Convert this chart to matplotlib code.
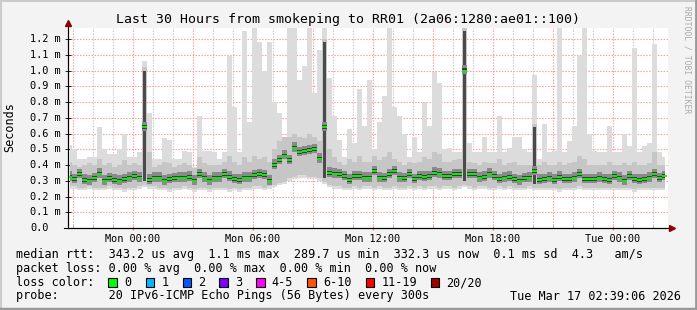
import numpy as np
import matplotlib
matplotlib.use("Agg")
import matplotlib.pyplot as plt
from matplotlib.patches import Rectangle
from matplotlib.lines import Line2D
from matplotlib.transforms import blended_transform_factory

plt.rcParams['font.family'] = 'DejaVu Sans Mono'

W, H = 697, 310

# one bin = 15 minutes, hours relative to Mon 00:00
t_start = -3.15
t_step = 0.25

# median rtt (ms)
median = [
    0.326, 0.31, 0.34, 0.305, 0.30, 0.315, 0.345, 0.30, 0.315, 0.305,
    0.30, 0.31, 0.32, 0.33, 0.32, 0.64, 0.305, 0.32, 0.32, 0.30,
    0.31, 0.315, 0.32, 0.32, 0.325, 0.30, 0.34, 0.32, 0.30, 0.32,
    0.32, 0.34, 0.325, 0.31, 0.305, 0.32, 0.32, 0.335, 0.34, 0.335,
    0.30, 0.40, 0.43, 0.46, 0.43, 0.51, 0.48, 0.487, 0.495, 0.50,
    0.44, 0.64, 0.35, 0.345, 0.34, 0.33, 0.305, 0.33, 0.33, 0.32,
    0.32, 0.36, 0.32, 0.315, 0.34, 0.36, 0.32, 0.315, 0.34, 0.31,
    0.33, 0.325, 0.33, 0.35, 0.345, 0.33, 0.33, 0.34, 0.34, 1.00,
    0.34, 0.34, 0.32, 0.325, 0.345, 0.33, 0.31, 0.32, 0.325, 0.31,
    0.30, 0.315, 0.32, 0.36, 0.305, 0.31, 0.32, 0.305, 0.325, 0.31,
    0.31, 0.32, 0.34, 0.31, 0.31, 0.31, 0.32, 0.31, 0.305, 0.33,
    0.32, 0.30, 0.33, 0.31, 0.305, 0.31, 0.32, 0.34, 0.315, 0.33,
]

# slowest ping per bin (ms)
top = [
    0.53, 0.50, 0.44, 0.44, 0.45, 0.45, 0.64, 0.50, 0.47, 0.47,
    0.50, 0.60, 0.45, 0.45, 0.48, 1.06, 0.73, 0.44, 0.44, 0.57,
    0.56, 0.44, 0.44, 0.49, 0.48, 0.39, 0.71, 0.49, 0.49, 0.48,
    0.44, 0.48, 1.09, 0.77, 0.48, 1.25, 0.67, 1.30, 1.18, 1.00,
    1.18, 0.80, 0.73, 0.54, 1.30, 1.30, 0.94, 1.03, 1.30, 0.86,
    1.13, 1.30, 0.95, 0.71, 0.56, 0.45, 0.63, 0.54, 0.88, 0.65,
    0.94, 0.50, 0.67, 0.84, 1.30, 0.77, 0.71, 0.60, 0.45, 0.58,
    0.48, 0.80, 0.65, 0.99, 0.92, 0.50, 0.51, 0.48, 0.48, 1.30,
    0.54, 0.48, 0.48, 0.58, 0.48, 0.48, 0.71, 0.48, 0.51, 0.58,
    0.58, 0.50, 0.48, 0.97, 0.44, 0.66, 0.48, 0.49, 1.30, 0.48,
    0.55, 0.65, 1.09, 1.30, 0.60, 0.49, 0.48, 0.48, 0.65, 0.48,
    0.48, 0.60, 0.52, 1.14, 0.48, 0.52, 0.54, 1.17, 0.48, 0.45,
]

# upper edge of the dense smoke (ms)
upper = [
    0.42, 0.40, 0.39, 0.40, 0.41, 0.40, 0.44, 0.40, 0.41, 0.39,
    0.40, 0.43, 0.40, 0.41, 0.40, 1.02, 0.48, 0.39, 0.40, 0.42,
    0.41, 0.39, 0.40, 0.41, 0.40, 0.38, 0.45, 0.41, 0.40, 0.40,
    0.40, 0.42, 0.46, 0.42, 0.40, 0.45, 0.42, 0.46, 0.44, 0.45,
    0.42, 0.50, 0.55, 0.58, 0.58, 0.60, 0.58, 0.57, 0.60, 0.58,
    0.55, 1.20, 0.50, 0.45, 0.42, 0.40, 0.44, 0.42, 0.46, 0.42,
    0.42, 0.46, 0.43, 0.45, 0.48, 0.44, 0.42, 0.40, 0.42, 0.41,
    0.42, 0.45, 0.44, 0.48, 0.47, 0.42, 0.42, 0.43, 0.44, 1.27,
    0.42, 0.41, 0.40, 0.42, 0.41, 0.41, 0.44, 0.40, 0.41, 0.42,
    0.40, 0.40, 0.40, 0.66, 0.40, 0.42, 0.40, 0.40, 0.42, 0.40,
    0.41, 0.42, 0.46, 0.44, 0.40, 0.40, 0.40, 0.40, 0.42, 0.40,
    0.40, 0.41, 0.40, 0.42, 0.40, 0.40, 0.41, 0.48, 0.40, 0.40,
]

# fastest ping per bin (ms)
lower = [
    0.25, 0.25, 0.24, 0.24, 0.25, 0.24, 0.24, 0.24, 0.25, 0.24,
    0.24, 0.23, 0.24, 0.24, 0.25, 0.26, 0.25, 0.25, 0.24, 0.24,
    0.23, 0.24, 0.24, 0.25, 0.24, 0.23, 0.24, 0.24, 0.23, 0.24,
    0.24, 0.24, 0.23, 0.24, 0.23, 0.24, 0.24, 0.25, 0.25, 0.24,
    0.25, 0.26, 0.27, 0.28, 0.30, 0.31, 0.32, 0.32, 0.31, 0.31,
    0.30, 0.28, 0.26, 0.25, 0.25, 0.24, 0.24, 0.25, 0.24, 0.25,
    0.25, 0.24, 0.25, 0.24, 0.24, 0.25, 0.24, 0.24, 0.25, 0.24,
    0.25, 0.24, 0.25, 0.25, 0.24, 0.25, 0.25, 0.24, 0.25, 0.26,
    0.25, 0.24, 0.25, 0.25, 0.24, 0.24, 0.25, 0.24, 0.25, 0.24,
    0.24, 0.24, 0.25, 0.24, 0.24, 0.24, 0.24, 0.24, 0.23, 0.24,
    0.24, 0.24, 0.25, 0.24, 0.24, 0.24, 0.24, 0.24, 0.24, 0.24,
    0.24, 0.24, 0.24, 0.23, 0.24, 0.24, 0.24, 0.24, 0.24, 0.24,
]

tick_hours = [0, 6, 12, 18, 24]
tick_labels = ["Mon 00:00", "Mon 06:00", "Mon 12:00", "Mon 18:00", "Tue 00:00"]
y_values = [0.0, 0.1, 0.2, 0.3, 0.4, 0.5, 0.6, 0.7, 0.8, 0.9, 1.0, 1.1, 1.2]

loss_labels = ["0", "1", "2", "3", "4-5", "6-10", "11-19", "20/20"]
loss_colors = ["#00FF00", "#00B8FF", "#0059FF", "#7E00FF",
               "#FF00FF", "#FF5500", "#FF0000", "#A10000"]

title = "Last 30 Hours from smokeping to RR01 (2a06:1280:ae01::100)"
rtt_line = "median rtt:  343.2 us avg  1.1 ms max  289.7 us min  332.3 us now  0.1 ms sd  4.3   am/s"
loss_line = "packet loss: 0.00 % avg  0.00 % max  0.00 % min  0.00 % now"
probe_line = "probe:       20 IPv6-ICMP Echo Pings (56 Bytes) every 300s"
stamp = "Tue Mar 17 02:39:06 2026"


def fx(px):
    return px / W


def fy(py):
    return 1 - py / H


t = t_start + t_step * np.arange(len(median))
med = np.array(median)
up = np.array(upper)
lo = np.array(lower)

fig = plt.figure(figsize=(W / 100, H / 100), dpi=100, facecolor="#F3F3F3")
ax = fig.add_axes([fx(67.5), fy(228), 600 / W, 200 / H])
ax.set_facecolor("white")
ax.set_xlim(-3.25, 26.75)
ax.set_ylim(0, 1.27)

# grid
for h in range(-3, 27):
    if h % 3 == 0:
        ax.axvline(h, color="#FF9B9B", lw=0.8, ls=(0, (1.3, 1.3)), zorder=1)
    else:
        ax.axvline(h, color="#C8C8C8", lw=0.8, ls=(0, (1.3, 1.3)), zorder=1)
for v in y_values[1:]:
    ax.axhline(v, color="#FF9B9B", lw=0.8, ls=(0, (1.3, 1.3)), zorder=1)

# smoke
ax.fill_between(t, lo, top, step="mid", color="#DCDCDC", lw=0, zorder=2)
ax.fill_between(t, lo + 0.015, up, step="mid", color="#C6C6C6", lw=0, zorder=3)
spike = up > 0.61
ax.bar(t[spike], up[spike] - lo[spike] - 0.06, bottom=lo[spike] + 0.04, width=0.16,
       color="#4A4A4A", lw=0, zorder=4)
ax.fill_between(t, med - 0.025, med + 0.035, step="mid", color="#8A8A8A", lw=0, zorder=4)
ax.fill_between(t, med - 0.011, med + 0.013, step="mid", color="#3C3C3C", lw=0, zorder=5)
ax.hlines(med, t - t_step / 2, t + t_step / 2, color="#00FF00", lw=1.3, zorder=6)

# axes
for s in ["top", "right"]:
    ax.spines[s].set_visible(False)
ax.spines["left"].set_color("#000000")
ax.spines["bottom"].set_color("#000000")
ax.spines["left"].set_linewidth(0.8)
ax.spines["bottom"].set_linewidth(0.8)

ax.set_xticks(tick_hours, tick_labels)
ax.set_xticks(range(-3, 27), minor=True)
ax.tick_params(axis="x", which="major", length=3, width=0.8, color="#FF7070",
               direction="inout", pad=3, labelsize=7.4)
ax.tick_params(axis="x", which="minor", length=2, width=0.6, color="#AAAAAA",
               direction="in")
ax.set_yticks(y_values, [""] * len(y_values))
ax.tick_params(axis="y", length=4, width=0.6, color="#000000", direction="inout")

ytr = blended_transform_factory(fig.transFigure, ax.transData)
for v in y_values:
    lab = "0.0" if v == 0 else "%.1f m" % v
    ax.text(fx(30), v, lab, transform=ytr, ha="left", va="center", fontsize=7.4)

# axis extensions and arrows
fig.add_artist(Line2D([fx(67.5), fx(67.5)], [fy(228), fy(24)], color="#000000", lw=0.8))
fig.add_artist(Line2D([fx(64), fx(671)], [fy(228), fy(228)], color="#000000", lw=0.8))
fig.add_artist(Line2D([fx(67.5)], [fy(23)], marker="^", color="#8B0000", ms=4.5, lw=0))
fig.add_artist(Line2D([fx(672)], [fy(228)], marker=">", color="#8B0000", ms=4.5, lw=0))

# labels
fig.text(fx(348.5), fy(23), title, ha="center", va="baseline", fontsize=9.5)
fig.text(fx(10), fy(127), "Seconds", rotation=90, ha="center", va="center", fontsize=8.5)
fig.text(fx(687), fy(6), "RRDTOOL / TOBI OETIKER", rotation=270, ha="center", va="top",
         fontsize=5.8, color="#AAAAAA")

fig.text(fx(16), fy(258), rtt_line, ha="left", va="baseline", fontsize=8.5)
fig.text(fx(16), fy(272), loss_line, ha="left", va="baseline", fontsize=8.5)
fig.text(fx(16), fy(286), "loss color:", ha="left", va="baseline", fontsize=8.5)
fig.text(fx(16), fy(299.5), probe_line, ha="left", va="baseline", fontsize=8.5)
fig.text(fx(681), fy(299.5), stamp, ha="right", va="baseline", fontsize=8.5)

box_x = [108.3, 145.7, 182.7, 219.3, 256, 307.3, 365.7, 430.7]
for bx, lab, col in zip(box_x, loss_labels, loss_colors):
    fig.add_artist(Rectangle((fx(bx), fy(286.5)), 8.5 / W, 9 / H, transform=fig.transFigure,
                             facecolor=col, edgecolor="black", lw=0.8))
    fig.text(fx(bx + 15.5), fy(286), lab, ha="left", va="baseline", fontsize=8.5)

# frame
fig.add_artist(Line2D([0, 1], [fy(0.5), fy(0.5)], color="#CBCBCB", lw=1.5))
fig.add_artist(Line2D([fx(0.5), fx(0.5)], [0, 1], color="#CBCBCB", lw=1.5))
fig.add_artist(Line2D([0, 1], [fy(309), fy(309)], color="#999999", lw=2.5))
fig.add_artist(Line2D([fx(696), fx(696)], [0, 1], color="#999999", lw=2))

fig.savefig("out.png", dpi=100, facecolor=fig.get_facecolor())
